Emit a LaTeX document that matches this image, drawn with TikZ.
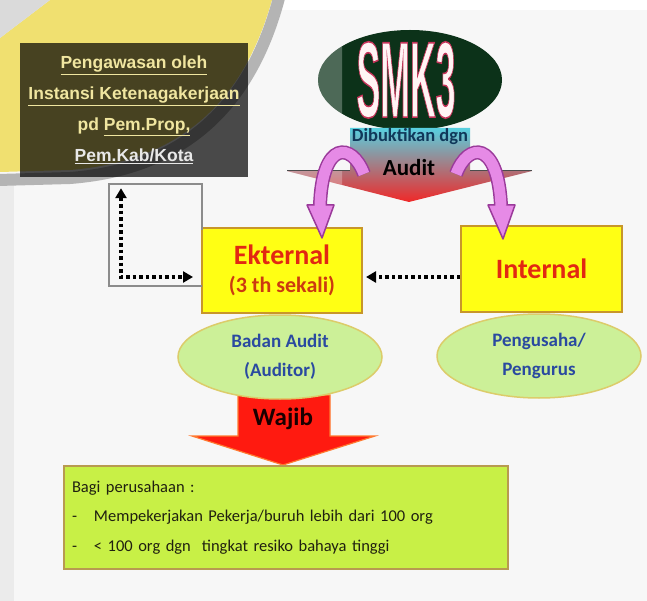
\documentclass[tikz,border=0pt]{standalone}
\usepackage{fontspec}
\setmainfont{Carlito}
\newfontfamily\libsans{Liberation Sans}
\usetikzlibrary{shapes.geometric,arrows.meta}
\definecolor{bg}{HTML}{F7F7F7}
\definecolor{smkgreen}{HTML}{0C3219}
\definecolor{smkred}{HTML}{C02850}
\definecolor{smkwhite}{HTML}{FFF4F4}
\definecolor{auditcyan}{HTML}{58D0E0}
\definecolor{auditpink}{HTML}{E89AA8}
\definecolor{auditred}{HTML}{F02828}
\definecolor{dibtext}{HTML}{10385A}
\definecolor{pinkfill}{HTML}{E68AE6}
\definecolor{pinkedge}{HTML}{9A3A9A}
\definecolor{boxyellow}{HTML}{FFFF14}
\definecolor{boxborder}{HTML}{C8962A}
\definecolor{ektred}{HTML}{E22812}
\definecolor{sekalired}{HTML}{CC3A10}
\definecolor{ellgreen}{HTML}{CCF098}
\definecolor{ellborder}{HTML}{DCCC6A}
\definecolor{elltext}{HTML}{2A4AA0}
\definecolor{wajibred}{HTML}{FF1A10}
\definecolor{wajibedge}{HTML}{FF7A30}
\definecolor{gfill}{HTML}{C8F046}
\definecolor{gborder}{HTML}{B89A50}
\definecolor{gtext}{HTML}{202010}
\definecolor{rectgray}{HTML}{8C8C8C}
\definecolor{wmyellow}{HTML}{F0E070}
\definecolor{wmgray}{HTML}{B4B4B4}
\definecolor{wmlight}{HTML}{DADADA}
\definecolor{pengtext}{HTML}{F0E6A0}
\definecolor{pengwhite}{HTML}{E8E8E8}
\newcommand\fsz[1]{\fontsize{#1}{#1}\selectfont}
\begin{document}
\begin{tikzpicture}[x=1pt,y=-1pt,
  yelbox/.style={draw=boxborder, line width=2pt, fill=boxyellow, minimum width=160pt, minimum height=85pt, inner sep=0pt, align=center},
  greenell/.style={ellipse, draw=ellborder, line width=1.5pt, fill=ellgreen, minimum width=204pt, minimum height=84pt, inner sep=0pt, align=center, text=elltext, font=\bfseries\fontsize{19}{29}\selectfont},
  dotline/.style={line width=3.5pt, dash pattern=on 3.5pt off 3pt, black},
  dtip/.tip={Triangle[length=10pt,width=11pt]},
  pinkband/.style={line width=14pt, pinkedge},
  pinkinner/.style={line width=11pt, pinkfill},
  pinkhead/.style={fill=pinkfill, draw=pinkedge, line width=1.5pt, line join=round}
]
\fill[bg] (0,0) rectangle (647,601);
\useasboundingbox (0,0) rectangle (647,601);
\fill[white] (280,0) rectangle (647,10);
\fill[black!8] (0,185) rectangle (14,601);

% SMK3 ellipse
\node[ellipse, fill=smkgreen, minimum width=184pt, minimum height=100pt, inner sep=0pt] (smk) at (410,80) {};

% Audit block arrow
\shade[top color=auditcyan, middle color=auditpink, bottom color=auditred]
  (350,128) -- (470,128) -- (470,171) -- (532,171) -- (409,202) -- (287,171) -- (350,171) -- cycle;
% washed left strip of the ellipse and the arrow
\begin{scope}
  \clip (250,0) rectangle (342,205);
  \fill[white, opacity=0.27] (410,80) ellipse [x radius=92, y radius=50];
  \fill[white, opacity=0.27] (287,171) -- (409,202) -- (409,171) -- cycle;
\end{scope}
\draw[black!70, line width=1pt] (287,171) -- (350,171);
\draw[black!70, line width=1pt] (470,171) -- (532,171);
\node[inner sep=0pt] (smktxt) at (406,80) {\scalebox{0.33}[1]{\libsans\bfseries\fsz{108}\color{smkwhite}\special{pdf:literal direct 2 Tr 1.6 w 0.78 0.2 0.35 RG}SMK3\special{pdf:literal direct 0 Tr}}};
\node[font=\bfseries\fsz{18.5}, text=dibtext, inner sep=0pt] (dib) at (410,137) {Dibuktikan dgn};
\node[font=\bfseries\fsz{23}, inner sep=0pt] (aud) at (409,168) {Audit};

% boxes
\node[yelbox] (ekst) at (282,270.5) {{\bfseries\color{ektred}\fontsize{28}{30}\selectfont Ekternal}\\[10pt]{\bfseries\color{sekalired}\fontsize{22}{24}\selectfont (3 th sekali)}};
\node[yelbox, minimum width=161pt, minimum height=86pt] (int) at (541.5,269) {\bfseries\color{ektred}\fontsize{28}{30}\selectfont Internal};

% pink curved arrows
\coordinate (pLs) at (364,174);
\coordinate (pLe) at (320,206);
\coordinate (pLt) at (322,238);
\coordinate (pRs) at (456,174);
\coordinate (pRe) at (501,206);
\coordinate (pRt) at (503,239);
\draw[pinkband] (pLs) .. controls (352,142) and (322,140) .. (pLe);
\filldraw[pinkhead] ([shift={(-13,-1)}]pLe) -- ([shift={(14,-1)}]pLe) -- (pLt) -- cycle;
\draw[pinkinner] (pLs) .. controls (352,142) and (322,140) .. (pLe);
\draw[pinkband] (pRs) .. controls (468,142) and (498,140) .. (pRe);
\filldraw[pinkhead] ([shift={(-13,-1)}]pRe) -- ([shift={(14,-1)}]pRe) -- (pRt) -- cycle;
\draw[pinkinner] (pRs) .. controls (468,142) and (498,140) .. (pRe);

% watermark
\fill[wmyellow] (0,38) -- (50,0) -- (272,0) .. controls (248,85) and (195,160) .. (70,170) -- (0,172) -- cycle;
\draw[wmgray, line width=12pt] (279,-2) .. controls (255,88) and (200,168) .. (70,178) -- (-2,180);
\fill[wmlight] (0,0) -- (50,0) -- (0,38) -- cycle;

% Pengawasan box
\node[fill=black, fill opacity=0.7, text opacity=1, minimum width=228pt, minimum height=134pt, inner sep=0pt, align=center, text=pengtext, font=\libsans\bfseries\fontsize{17.5}{31}\selectfont] (peng) at (134,110)
  {\underline{Pengawasan oleh}\\\underline{Instansi Ketenagakerjaan}\\pd \underline{Pem.Prop,}\\\textcolor{pengwhite}{\underline{Pem.Kab/Kota}}};

% thin frame and elbow arrow
\draw[rectgray, line width=1.2pt] (202,230) -- (202,184) -- (109,184) -- (109,286) -- (202,286);
\coordinate (elb) at (121,277);
\draw[dotline, dtip-dtip] ([yshift=-11pt]peng.south -| elb) -- (elb) -- ([xshift=-8pt]ekst.west |- elb);

% internal -> ekternal
\draw[dotline, -dtip] (int.west |- elb) -- ([xshift=3pt]ekst.east |- elb);

% Wajib arrow
\filldraw[fill=wajibred, draw=wajibedge, line width=1.2pt, line join=miter]
  (238,395) -- (330,395) -- (330,436) -- (375,436) -- (283,465) -- (192,436) -- (238,436) -- cycle;
\node[font=\bfseries\fsz{25}, text=black!90!red, inner sep=0pt] (waj) at (283,419) {Wajib};

% ellipses
\node[greenell] (bad) at (280,357) {Badan Audit\\(Auditor)};
\node[greenell] (pen) at (539,356) {Pengusaha/\\Pengurus};

% green box
\node[draw=gborder, line width=1.5pt, fill=gfill, minimum width=444pt, minimum height=103pt, text width=428pt, align=left, inner sep=8pt, text=gtext, font=\fontsize{16.5}{29.5}\selectfont] (gbox) at (286,517.5)
  {Bagi perusahaan :\\\makebox[22pt][l]{-}Mempekerjakan Pekerja/buruh lebih dari 100 org\\\makebox[22pt][l]{-}< 100 org dgn\ \ tingkat resiko bahaya tinggi};
\end{tikzpicture}
\end{document}
